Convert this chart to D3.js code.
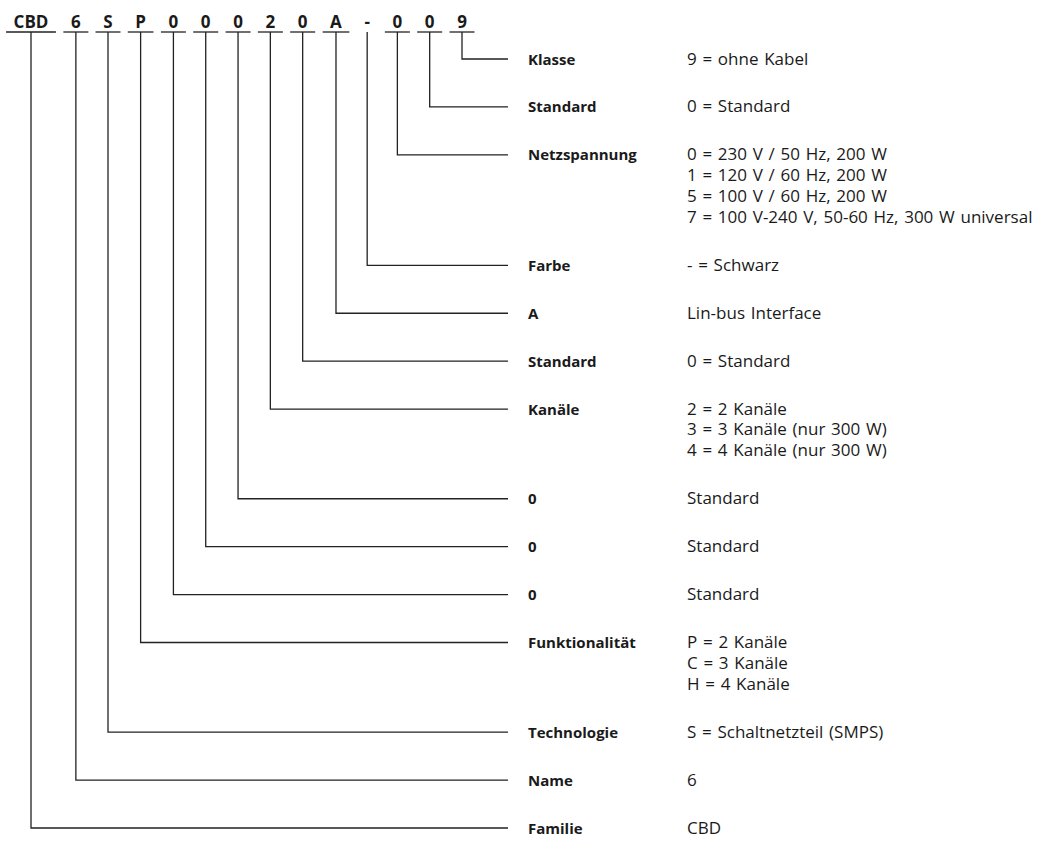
<!DOCTYPE html>
<html lang="de">
<head>
<meta charset="utf-8">
<title>Typenschlüssel CBD6S</title>
<script src="https://d3js.org/d3.v7.min.js"></script>
<style>
  body { margin: 0; background: #fff; }
  text { fill: #1a1a1a; font-family: "Open Sans", Roboto, sans-serif; }
  .code { font-weight: bold; font-size: 17px; }
  .label { font-weight: bold; font-size: 15px; }
  .desc { font-size: 17px; word-spacing: 1.3px; }
  .wire { fill: none; stroke: #222; stroke-width: 1.3px; }
</style>
</head>
<body>
<div id="chart"></div>
<script>
// code characters, left to right
const codeChars = ["CBD", "6", "S", "P", "0", "0", "0", "2", "0", "A", "-", "0", "0", "9"];

// rows on the right, top to bottom (row 0 belongs to the last code char)
const rowLabels = ["Klasse", "Standard", "Netzspannung", "Farbe", "A", "Standard", "Kanäle",
  "0", "0", "0", "Funktionalität", "Technologie", "Name", "Familie"];

const rowDescriptions = [
  ["9 = ohne Kabel"],
  ["0 = Standard"],
  ["0 = 230 V / 50 Hz, 200 W", "1 = 120 V / 60 Hz, 200 W", "5 = 100 V / 60 Hz, 200 W",
    "7 = 100 V-240 V, 50-60 Hz, 300 W universal"],
  ["- = Schwarz"],
  ["Lin-bus Interface"],
  ["0 = Standard"],
  ["2 = 2 Kanäle", "3 = 3 Kanäle (nur 300 W)", "4 = 4 Kanäle (nur 300 W)"],
  ["Standard"],
  ["Standard"],
  ["Standard"],
  ["P = 2 Kanäle", "C = 3 Kanäle", "H = 4 Kanäle"],
  ["S = Schaltnetzteil (SMPS)"],
  ["6"],
  ["CBD"]
];

const width = 1048, height = 843;
const rowGap = 47.8, lineGap = 20.8;
const lineEndX = 508, labelX = 528, descX = 687;
const codeBaseline = 28, underlineY = 32;

const svg = d3.select("#chart").append("svg")
  .attr("width", width)
  .attr("height", height);

// row positions: one slot per row plus extra room for multi-line descriptions
let extra = 0;
const rows = rowLabels.map(function (label, i) {
  const r = { label: label, desc: rowDescriptions[i], slot: i + extra * lineGap / rowGap };
  extra += rowDescriptions[i].length - 1;
  return r;
});
const lastSlot = rows[rows.length - 1].slot;
const y = d3.scaleLinear().domain([0, lastSlot]).range([59, 828]);

// code characters, laid out by measured width
const codeG = svg.append("g");
const codeText = codeG.selectAll("text")
  .data(codeChars)
  .join("text")
  .attr("class", "code")
  .attr("text-anchor", "middle")
  .attr("y", codeBaseline)
  .text(d => d);

const widths = [];
codeText.each(function () { widths.push(this.getComputedTextLength()); });
// spread the chars so the first sits over x=31 and the last over x=462
const raw = [0];
widths.forEach(function (w, i) {
  if (i > 0) raw.push(raw[i - 1] + widths[i - 1] / 2 + w / 2 + 1);
});
const gapK = (462 - 31 - raw[raw.length - 1]) / (widths.length - 1);
const centers = raw.map((r, i) => 31 + r + gapK * i);
codeText.attr("x", (d, i) => centers[i]);

// underlines (the dash has none)
codeG.selectAll("line.under")
  .data(codeChars.map((c, i) => ({ c: c, i: i })).filter(d => d.c !== "-"))
  .join("line")
  .attr("class", "wire under")
  .attr("x1", d => centers[d.i] - Math.max(widths[d.i], 10) / 2 - 7.5)
  .attr("x2", d => centers[d.i] + Math.max(widths[d.i], 10) / 2 + 7.5)
  .attr("y1", underlineY)
  .attr("y2", underlineY);

// connectors: down from the code char, then across to the row
svg.append("g").selectAll("path")
  .data(codeChars)
  .join("path")
  .attr("class", "wire")
  .attr("d", function (d, i) {
    const row = rows[codeChars.length - 1 - i];
    const ry = y(row.slot);
    return `M${centers[i]},${underlineY}V${ry}H${lineEndX}`;
  });

// labels and descriptions
const rowG = svg.append("g").selectAll("g")
  .data(rows)
  .join("g")
  .attr("transform", d => `translate(0,${y(d.slot) + 5.5})`);

rowG.append("text")
  .attr("class", "label")
  .attr("x", labelX)
  .text(d => d.label);

rowG.selectAll("text.desc")
  .data(d => d.desc)
  .join("text")
  .attr("class", "desc")
  .attr("x", descX)
  .attr("y", (d, i) => i * lineGap)
  .text(d => d);
</script>
</body>
</html>
